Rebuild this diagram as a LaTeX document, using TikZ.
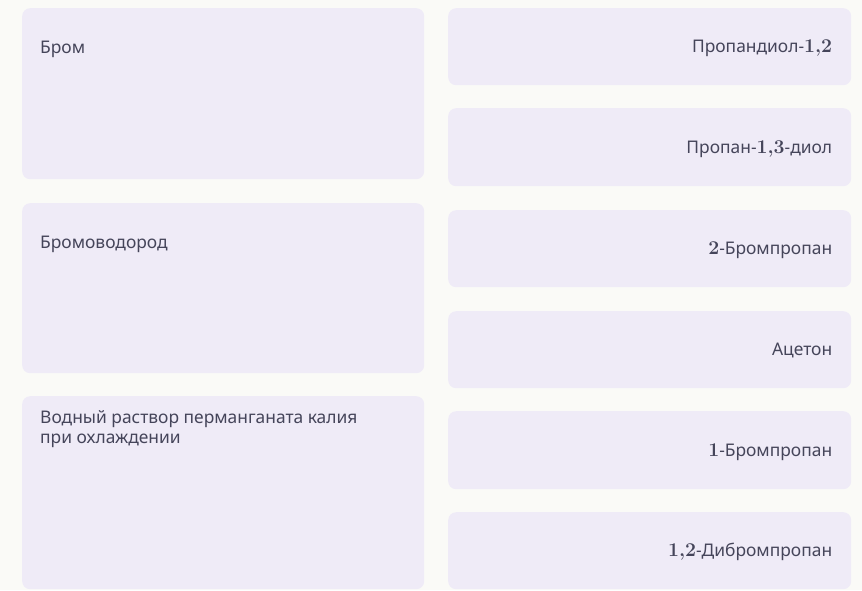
\documentclass[tikz,border=0pt]{standalone}
\usepackage[no-math]{fontspec}
\setmainfont{Noto Sans}
\newfontfamily\lmdig{Latin Modern Roman}
\newcommand{\dg}[1]{{\lmdig\bfseries\fontsize{19.5}{20}\selectfont #1}}
\begin{document}
\begin{tikzpicture}[x=1pt,y=-1pt,
  card/.style={fill=cardfill, draw=none, rounded corners=8pt, anchor=north west, inner sep=0pt},
  ltxt/.style={anchor=base west, inner sep=0pt, text=txt, font=\fontsize{17.4}{20}\selectfont, align=left},
  rtxt/.style={anchor=base east, inner sep=0pt, text=txt, font=\fontsize{17.4}{20}\selectfont}]
\definecolor{cardfill}{HTML}{EFEBF7}
\definecolor{bg}{HTML}{FAFAF7}
\definecolor{txt}{HTML}{45455A}
\fill[bg] (0,0) rectangle (862,590);
\useasboundingbox (0,0) rectangle (862,590);
% left cards
\node[card, minimum width=402pt, minimum height=171pt] (L1) at (22,8) {};
\node[card, minimum width=402pt, minimum height=170pt] (L2) at (22,203) {};
\node[card, minimum width=402pt, minimum height=193pt] (L3) at (22,396) {};
\node[ltxt] (t1) at ([xshift=18pt,yshift=-45pt]L1.north west) {Бром};
\node[ltxt] (t2) at ([xshift=18pt,yshift=-45pt]L2.north west) {Бромоводород};
\node[ltxt] (t3) at ([xshift=18pt,yshift=-47pt]L3.north west) {Водный раствор перманганата калия\\при охлаждении};
% right cards
\node[card, minimum width=403pt, minimum height=77pt] (R1) at (448,8) {};
\node[card, minimum width=403pt, minimum height=78pt] (R2) at (448,108) {};
\node[card, minimum width=403pt, minimum height=77pt] (R3) at (448,210) {};
\node[card, minimum width=403pt, minimum height=77pt] (R4) at (448,311) {};
\node[card, minimum width=403pt, minimum height=78pt] (R5) at (448,411) {};
\node[card, minimum width=403pt, minimum height=77pt] (R6) at (448,512) {};
\node[rtxt] (s1) at ([xshift=-19pt,yshift=-6pt]R1.east) {Пропандиол-\dg{1,2}};
\node[rtxt] (s2) at ([xshift=-19pt,yshift=-6pt]R2.east) {Пропан-\dg{1,3}-диол};
\node[rtxt] (s3) at ([xshift=-19pt,yshift=-6pt]R3.east) {\dg{2}-Бромпропан};
\node[rtxt] (s4) at ([xshift=-19pt,yshift=-6pt]R4.east) {Ацетон};
\node[rtxt] (s5) at ([xshift=-19pt,yshift=-6pt]R5.east) {\dg{1}-Бромпропан};
\node[rtxt] (s6) at ([xshift=-19pt,yshift=-6pt]R6.east) {\dg{1,2}-Дибромпропан};
\end{tikzpicture}
\end{document}
